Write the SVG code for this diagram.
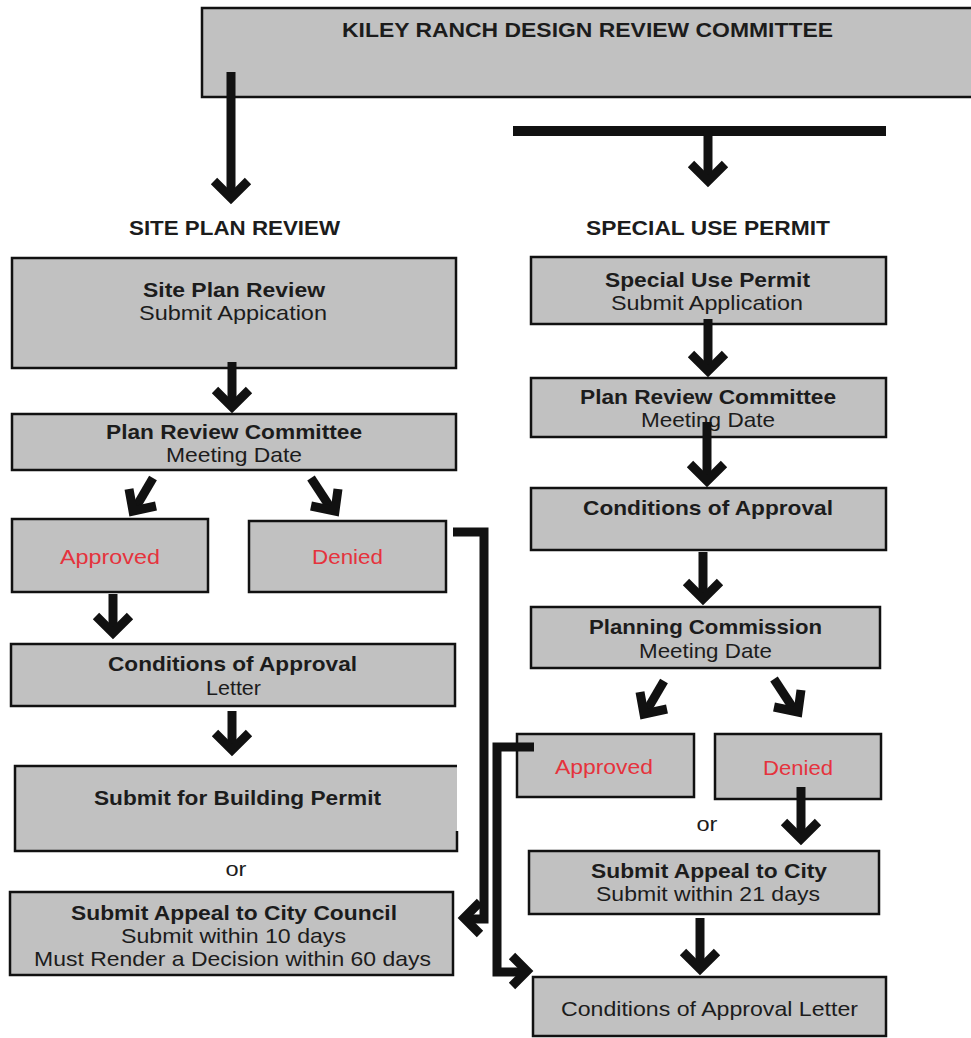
<svg xmlns="http://www.w3.org/2000/svg" width="971" height="1038" viewBox="0 0 971 1038">
<style>
.box{fill:#c1c1c1;stroke:#111;stroke-width:2.5}
.fill{fill:#c1c1c1;stroke:none}
.edge{fill:none;stroke:#111;stroke-width:2.5}
text{font-family:"Liberation Sans",Arial,Helvetica,sans-serif;font-size:21px;text-anchor:middle;fill:#1c1c1c}
.b{font-weight:bold}
.h{font-weight:bold;font-size:20px}
.r{fill:#e5333d}
.ln{fill:none;stroke:#111;stroke-width:9;stroke-linejoin:miter;stroke-miterlimit:10;stroke-linecap:butt}
.bar{fill:none;stroke:#111;stroke-width:10}
</style>
<defs>
<path id="hd" d="M-17,-17 L0,0 L17,-17" class="ln"/>
</defs>
<rect x="0" y="0" width="971" height="1038" fill="#ffffff"/>

<g id="top">
<rect class="box" x="202" y="8" width="790" height="89"/>
<text class="h" x="587.5" y="37" textLength="491" lengthAdjust="spacingAndGlyphs">KILEY RANCH DESIGN REVIEW COMMITTEE</text>
</g>

<g id="hdr-site">
<text class="h" x="234.5" y="235" textLength="211" lengthAdjust="spacingAndGlyphs">SITE PLAN REVIEW</text>
</g>
<g id="hdr-sup">
<text class="h" x="708" y="235" textLength="244" lengthAdjust="spacingAndGlyphs">SPECIAL USE PERMIT</text>
</g>

<g id="l-site">
<rect class="box" x="12" y="258" width="444" height="110"/>
<text class="b" x="234" y="297" textLength="182" lengthAdjust="spacingAndGlyphs">Site Plan Review</text>
<text x="233" y="320" textLength="188" lengthAdjust="spacingAndGlyphs">Submit Appication</text>
</g>
<g id="l-prc">
<rect class="box" x="12" y="414" width="444" height="56"/>
<text class="b" x="234" y="439" textLength="256" lengthAdjust="spacingAndGlyphs">Plan Review Committee</text>
<text x="234" y="462" textLength="136" lengthAdjust="spacingAndGlyphs">Meeting Date</text>
</g>
<g id="l-approved">
<rect class="box" x="12" y="519" width="196" height="73"/>
<text class="r" x="110" y="564" textLength="100" lengthAdjust="spacingAndGlyphs">Approved</text>
</g>
<g id="l-denied">
<rect class="box" x="249" y="521" width="197" height="71"/>
<text class="r" x="347.5" y="564" textLength="71" lengthAdjust="spacingAndGlyphs">Denied</text>
</g>
<g id="l-coa">
<rect class="box" x="11" y="644" width="444" height="62"/>
<text class="b" x="232.5" y="671" textLength="249" lengthAdjust="spacingAndGlyphs">Conditions of Approval</text>
<text x="233.5" y="695" textLength="55" lengthAdjust="spacingAndGlyphs">Letter</text>
</g>
<g id="l-building">
<rect class="fill" x="15" y="766" width="442" height="85"/>
<path class="edge" d="M457,766 H15 V851 H457 V831"/>
<text class="b" x="237.5" y="805" textLength="287" lengthAdjust="spacingAndGlyphs">Submit for Building Permit</text>
</g>
<g id="l-or">
<text x="236" y="876" textLength="21" lengthAdjust="spacingAndGlyphs">or</text>
</g>
<g id="l-appeal">
<rect class="box" x="10" y="892" width="443" height="83"/>
<text class="b" x="234" y="920" textLength="326" lengthAdjust="spacingAndGlyphs">Submit Appeal to City Council</text>
<text x="233.5" y="943" textLength="225" lengthAdjust="spacingAndGlyphs">Submit within 10 days</text>
<text x="232.5" y="966" textLength="397" lengthAdjust="spacingAndGlyphs">Must Render a Decision within 60 days</text>
</g>

<g id="r-sup">
<rect class="box" x="531" y="257" width="355" height="67"/>
<text class="b" x="707.5" y="287" textLength="205" lengthAdjust="spacingAndGlyphs">Special Use Permit</text>
<text x="707" y="310" textLength="192" lengthAdjust="spacingAndGlyphs">Submit Application</text>
</g>
<g id="r-prc">
<rect class="box" x="531" y="378" width="355" height="59"/>
<text class="b" x="708" y="404" textLength="256" lengthAdjust="spacingAndGlyphs">Plan Review Committee</text>
<text x="708" y="427" textLength="134" lengthAdjust="spacingAndGlyphs">Meeting Date</text>
</g>
<g id="r-coa">
<rect class="box" x="531" y="488" width="355" height="62"/>
<text class="b" x="708" y="515" textLength="250" lengthAdjust="spacingAndGlyphs">Conditions of Approval</text>
</g>
<g id="r-pc">
<rect class="box" x="531" y="607" width="349" height="61"/>
<text class="b" x="705.5" y="634" textLength="233" lengthAdjust="spacingAndGlyphs">Planning Commission</text>
<text x="705.5" y="658" textLength="133" lengthAdjust="spacingAndGlyphs">Meeting Date</text>
</g>
<g id="r-approved">
<rect class="box" x="517" y="734" width="177" height="63"/>
<text class="r" x="604" y="774" textLength="98" lengthAdjust="spacingAndGlyphs">Approved</text>
</g>
<g id="r-denied">
<rect class="box" x="715" y="734" width="166" height="65"/>
<text class="r" x="798" y="775" textLength="70" lengthAdjust="spacingAndGlyphs">Denied</text>
</g>
<g id="r-or">
<text x="707" y="831" textLength="21" lengthAdjust="spacingAndGlyphs">or</text>
</g>
<g id="r-appeal">
<rect class="box" x="529" y="851" width="350" height="63"/>
<text class="b" x="709" y="878" textLength="236" lengthAdjust="spacingAndGlyphs">Submit Appeal to City</text>
<text x="708" y="901" textLength="224" lengthAdjust="spacingAndGlyphs">Submit within 21 days</text>
</g>
<g id="r-coaletter">
<rect class="box" x="533" y="977" width="353" height="59"/>
<text x="709.5" y="1016" textLength="297" lengthAdjust="spacingAndGlyphs">Conditions of Approval Letter</text>
</g>

<g id="connectors">
<path class="bar" d="M513,131 H886"/>
<path class="ln" d="M231,72 V198"/><use href="#hd" x="231" y="198"/>
<path class="ln" d="M708,131 V181"/><use href="#hd" x="708" y="181"/>
<path class="ln" d="M232,362 V407"/><use href="#hd" x="232" y="407"/>
<path class="ln" d="M113,594 V633"/><use href="#hd" x="113" y="633"/>
<path class="ln" d="M232,711 V750"/><use href="#hd" x="232" y="750"/>
<path class="ln" d="M708,319 V371"/><use href="#hd" x="708" y="371"/>
<path class="ln" d="M707,422 V481"/><use href="#hd" x="707" y="481"/>
<path class="ln" d="M703,552 V599"/><use href="#hd" x="703" y="599"/>
<path class="ln" d="M801,787 V839"/><use href="#hd" x="801" y="839"/>
<path class="ln" d="M700,918 V969"/><use href="#hd" x="700" y="969"/>
<path class="ln" d="M153,478 L136,507"/><path class="ln" d="M129,489 L133,511 L156,506"/>
<path class="ln" d="M311,478 L330,507"/><path class="ln" d="M338,489 L335,511 L311,506"/>
<path class="ln" d="M664,681 L647,710"/><path class="ln" d="M640,692 L644,714 L667,709"/>
<path class="ln" d="M774,679 L793,708"/><path class="ln" d="M801,690 L798,712 L774,707"/>
<path class="ln" d="M453,532 H484 V919 H466"/><path class="ln" d="M480,902 L464,918 L480,934"/>
<path class="ln" d="M534,747 H497 V972 H524"/><path class="ln" d="M512,956 L527,971 L512,986"/>
</g>
</svg>
